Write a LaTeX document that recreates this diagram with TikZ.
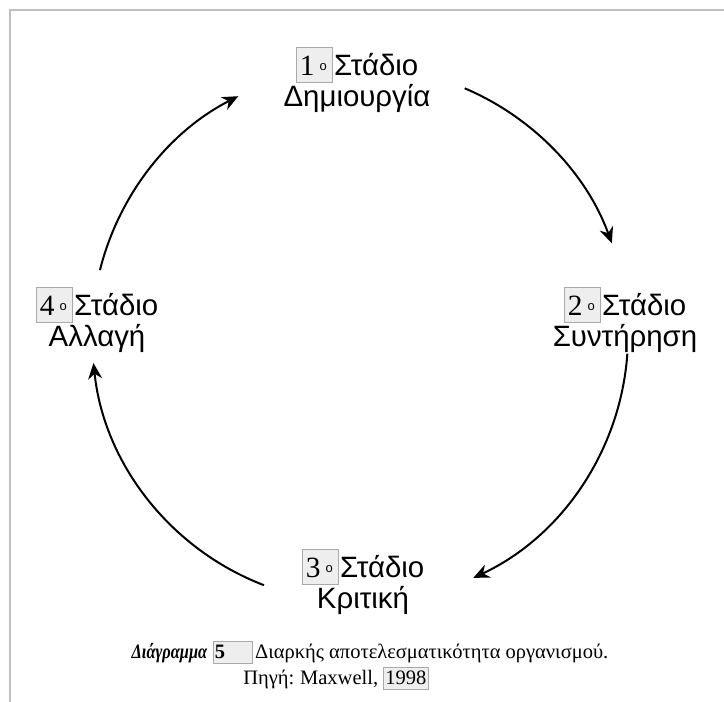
\documentclass[tikz,border=0pt]{standalone}
\usepackage{fontspec}
\usepackage{graphicx}
\setmainfont{Liberation Serif}
\newfontfamily\stagefont{Liberation Sans}
\usetikzlibrary{arrows.meta,calc}
\definecolor{fieldgray}{HTML}{EEEEEE}
\definecolor{fieldrule}{HTML}{AAAAAA}
\definecolor{framegray}{HTML}{C0C0C0}
\newcommand{\fieldbox}[1]{{\setlength{\fboxsep}{1.5pt}\setlength{\fboxrule}{0.7pt}%
  \fcolorbox{fieldrule}{fieldgray}{#1}}}
\newcommand{\stagenum}[1]{\fieldbox{\rule[-5pt]{0pt}{31pt}\hspace{2pt}{\rmfamily #1}%
  \hspace{5pt}\raisebox{5pt}{\fontsize{13}{13}\selectfont ο}\hspace{4pt}}\hspace{1pt}}

\begin{document}
\begin{tikzpicture}[x=1pt,y=1pt,
  stage/.style={font=\stagefont\fontsize{29.4}{31}\selectfont, align=center, inner sep=0pt},
  cycle/.style={-{Stealth[length=16pt,width=14pt]}, line width=2pt},
  caption/.style={font=\fontsize{20.5}{26}\selectfont, inner sep=0pt, anchor=base}]
  \useasboundingbox (0,0) rectangle (724,702);

  % Frame: only its top and left edges are in view
  \draw[framegray, line width=2.5pt] (10,0) -- (10,692) -- (724,692);

  % Stages
  \node[stage] (n1) at (357,622) {\stagenum{1}Στάδιο\\Δημιουργία};
  \node[stage] (n2) at (625,382) {\stagenum{2}Στάδιο\\Συντήρηση};
  \node[stage] (n3) at (363,120) {\stagenum{3}Στάδιο\\Κριτική};
  \node[stage] (n4) at (97,382) {\stagenum{4}Στάδιο\\Αλλαγή};

  % Cycle arrows, all on one circle
  \coordinate (ctr) at (360,367);
  \coordinate (s41) at ($(ctr)+(166:268)$);
  \coordinate (s12) at ($(ctr)+(67:268)$);
  \coordinate (s23) at ($(ctr)+(-4:268)$);
  \coordinate (s34) at ($(ctr)+(-111:268)$);
  \draw[cycle] (s41) arc[start angle=166, end angle=117, radius=268];
  \draw[cycle] (s12) arc[start angle=67, end angle=20, radius=268];
  \draw[cycle] (s23) arc[start angle=-4, end angle=-65, radius=268];
  \draw[cycle] (s34) arc[start angle=-111, end angle=-174, radius=268];

  % Caption
  \node[caption] (cap) at (370,43) {%
    \scalebox{0.8}[1]{\textbf{\textit{Διάγραμμα}}}
    \fieldbox{\rule[-3pt]{0pt}{19pt}\textbf{5}\hspace{25pt}}\hspace{3pt}%
    Διαρκής αποτελεσματικότητα οργανισμού.};
  \node[caption] (src) at (336,17) {%
    Πηγή:\hspace{-1pt} Maxwell, \fieldbox{\rule[-3pt]{0pt}{19pt}1998}};
\end{tikzpicture}
\end{document}
